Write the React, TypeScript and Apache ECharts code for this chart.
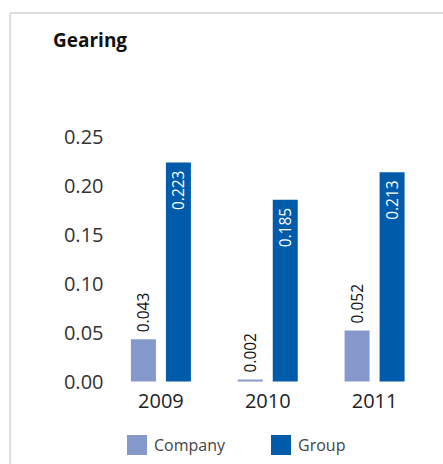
import React, { useEffect, useRef } from "react";
import * as echarts from "echarts";

const categories = ["2009", "2010", "2011"];
const companyValues = [0.043, 0.002, 0.052];
const groupValues = [0.223, 0.185, 0.213];
const seriesNames = ["Company", "Group"];
const titleText = "Gearing";

const FONT = "'Open Sans', 'Noto Sans', sans-serif";

export default function App() {
  const ref = useRef<HTMLDivElement>(null);
  useEffect(() => {
    document.body.style.margin = "0";
    const chart = echarts.init(ref.current!, null, { renderer: "svg" });
    chart.setOption({
      animation: false,
      backgroundColor: "#ffffff",
      textStyle: { fontFamily: FONT },
      graphic: [
        {
          type: "line",
          shape: { x1: 10, y1: 13, x2: 443, y2: 13 },
          style: { stroke: "#dedede", lineWidth: 2 },
        },
        {
          type: "line",
          shape: { x1: 10, y1: 13, x2: 10, y2: 464 },
          style: { stroke: "#dedede", lineWidth: 2 },
        },
        {
          type: "text",
          left: 53,
          top: 30,
          style: {
            text: titleText,
            fontFamily: FONT,
            fontSize: 19,
            fontWeight: "bold",
            fill: "#111111",
          },
        },
      ],
      legend: {
        left: 122,
        top: 430,
        itemWidth: 20,
        itemHeight: 20,
        itemGap: 46,
        icon: "rect",
        data: seriesNames,
        textStyle: { fontFamily: FONT, fontSize: 16, color: "#444444", padding: [0, 0, 0, 2] },
      },
      grid: { left: 107.5, right: 15, top: 136, bottom: 82.5, containLabel: false },
      xAxis: {
        type: "category",
        data: categories,
        axisLine: { show: false },
        axisTick: { show: false },
        axisLabel: { fontFamily: FONT, fontSize: 20, color: "#222222", margin: 9 },
      },
      yAxis: {
        type: "value",
        min: 0,
        max: 0.25,
        interval: 0.05,
        axisLine: { show: false },
        axisTick: { show: false },
        splitLine: { show: false },
        axisLabel: {
          fontFamily: FONT,
          fontSize: 20,
          color: "#333333",
          margin: 4,
          formatter: (v: number) => v.toFixed(2),
        },
      },
      series: [
        {
          name: seriesNames[0],
          type: "bar",
          data: companyValues,
          barWidth: 25,
          barGap: "40%",
          itemStyle: { color: "#8599cc" },
          label: {
            show: true,
            position: "top",
            rotate: 90,
            align: "left",
            verticalAlign: "middle",
            distance: 7,
            fontFamily: FONT,
            fontSize: 15.5,
            color: "#111111",
            formatter: (p: any) => p.value.toFixed(3),
          },
        },
        {
          name: seriesNames[1],
          type: "bar",
          data: groupValues,
          barWidth: 25,
          barGap: "40%",
          itemStyle: { color: "#005baa" },
          label: {
            show: true,
            position: "insideTop",
            rotate: 90,
            align: "right",
            verticalAlign: "middle",
            distance: 8,
            fontFamily: FONT,
            fontSize: 15.5,
            color: "#ffffff",
            formatter: (p: any) => p.value.toFixed(3),
          },
        },
      ],
    });
    return () => chart.dispose();
  }, []);
  return <div ref={ref} style={{ width: 443, height: 464 }} />;
}
